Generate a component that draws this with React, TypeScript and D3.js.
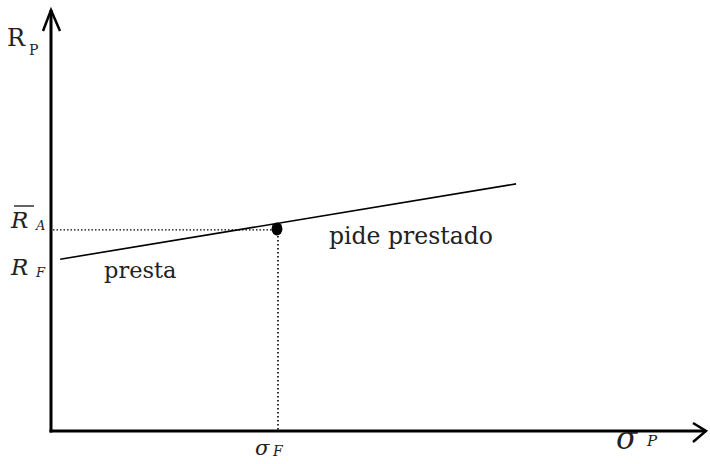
import React from "react";
import * as d3 from "d3";

// Capital market line: risk (sigma_P) vs. expected return (R_P)
const lineSigma = [0.14, 7.1];
const lineReturn = [4.08, 5.87];
const marketSigma = [3.45];
const marketReturn = [4.8];
const riskFreeReturn = [4.08];
const regionLabels = ["presta", "pide prestado"];

const W = 710;
const H = 464;

export default function App() {
  const x = d3.scaleLinear().domain([0, 10]).range([51, 706]);
  const y = d3.scaleLinear().domain([0, 10]).range([431, 10]);

  const cml = d3
    .line<number>()
    .x((_, i) => x(lineSigma[i]))
    .y((d) => y(d));

  const x0 = x(0);
  const y0 = y(0);
  const yTop = y(10);
  const xEnd = x(10);
  const mx = x(marketSigma[0]);
  const my = y(marketReturn[0]);

  const serif = "'DejaVu Serif', 'Liberation Serif', serif";

  return (
    <svg
      width={W}
      height={H}
      style={{ position: "absolute", left: 0, top: 0, background: "#fff" }}
      fontFamily={serif}
    >
      <rect width={W} height={H} fill="#fff" />

      {/* axes */}
      <line x1={x0} y1={y0 + 1.5} x2={x0} y2={yTop} stroke="#000" strokeWidth={3} />
      <line x1={x0 - 1.5} y1={y0} x2={xEnd} y2={y0} stroke="#000" strokeWidth={3} />
      <polyline
        points={`${x0 - 8},${yTop + 21} ${x0},${yTop} ${x0 + 9},${yTop + 21}`}
        fill="none"
        stroke="#000"
        strokeWidth={2.5}
      />
      <polyline
        points={`${xEnd - 13},${y0 - 8} ${xEnd},${y0} ${xEnd - 13},${y0 + 11}`}
        fill="none"
        stroke="#000"
        strokeWidth={2.5}
      />

      {/* dotted guides to the market portfolio */}
      <line x1={x0 + 2} y1={my + 1} x2={mx - 4} y2={my + 1} stroke="#000" strokeWidth={1.4} strokeDasharray="1.5 2" />
      <line x1={mx + 1} y1={my + 7} x2={mx + 1} y2={y0} stroke="#000" strokeWidth={1.6} strokeDasharray="1.5 2.5" />

      {/* capital market line */}
      <path d={cml(lineReturn) || ""} fill="none" stroke="#000" strokeWidth={1.6} />

      {/* market portfolio */}
      <ellipse cx={mx} cy={my} rx={5.5} ry={6.5} fill="#000" />

      {/* axis labels */}
      <text x={7} y={46} fontSize={24} fill="#222">R</text>
      <text x={29} y={55} fontSize={14} fill="#222">P</text>

      <text x={616} y={449} fontSize={31} fontStyle="italic" fill="#222">σ</text>
      <text x={647} y={446} fontSize={15} fontStyle="italic" fill="#222">P</text>

      <text x={mx - 22} y={455} fontSize={21} fontStyle="italic" fill="#222">σ</text>
      <text x={mx - 4} y={456} fontSize={14} fontStyle="italic" fill="#222">F</text>

      {/* return labels */}
      <text x={11} y={228} fontSize={23} fontStyle="italic" fill="#222">R</text>
      <line x1={14} y1={206} x2={34} y2={206} stroke="#222" strokeWidth={1.4} />
      <text x={36} y={230} fontSize={13} fontStyle="italic" fill="#222">A</text>

      <text x={11} y={y(riskFreeReturn[0]) + 16} fontSize={23} fontStyle="italic" fill="#222">R</text>
      <text x={36} y={y(riskFreeReturn[0]) + 18} fontSize={13} fontStyle="italic" fill="#222">F</text>

      {/* lending / borrowing regions */}
      <text x={104} y={278} fontSize={22.5} fill="#222">{regionLabels[0]}</text>
      <text x={329} y={244} fontSize={23.5} fill="#222">{regionLabels[1]}</text>
    </svg>
  );
}
